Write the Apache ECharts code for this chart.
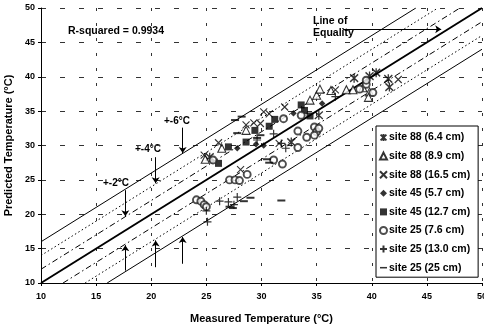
<!DOCTYPE html>
<html><head><meta charset="utf-8">
<script src="https://cdn.jsdelivr.net/npm/echarts@6/dist/echarts.min.js"></script>
<style>html,body{margin:0;padding:0;background:#fff}#c{width:484px;height:326px}</style>
</head><body><div id="c"></div><script>
// ---- data ----
const seriesNames = ["site 88 (6.4 cm)","site 88 (8.9 cm)","site 88 (16.5 cm)","site 45 (5.7 cm)","site 45 (12.7 cm)","site 25 (7.6 cm)","site 25 (13.0 cm)","site 25 (25 cm)"];
const site88_64 = [[25.3,28.3],[32.7,30.5],[35.2,34.4],[38.4,39.8],[39.8,40.1],[40.4,40.6],[41.5,39.7],[41.6,38.5]];
const site88_89 = [[24.9,28.0],[26.4,29.6],[28.6,32.2],[34.4,36.6],[35.0,37.3],[35.3,38.2],[36.3,38.0],[37.7,38.1],[38.3,38.1],[39.2,38.4],[39.8,37.8],[39.7,37.0]];
const site88_165 = [[24.8,28.6],[26.1,30.4],[28.6,33.0],[29.3,33.3],[29.9,33.2],[30.2,34.9],[30.7,34.6],[32.1,35.6],[28.1,26.5],[36.7,38.1],[42.4,39.6],[31.6,30.3]];
const site45_57 = [[25.5,27.8],[27.8,29.6],[29.5,30.2],[30.2,30.0],[32.9,34.7],[35.5,36.1]];
const site45_127 = [[26.1,27.4],[27.0,29.8],[28.6,30.5],[29.4,32.2],[30.7,32.8],[31.2,33.8],[33.6,35.9],[33.9,35.1],[34.4,34.3]];
const site25_76 = [[24.1,22.1],[24.5,21.9],[24.8,21.4],[25.0,21.1],[27.1,25.0],[27.6,25.0],[28.0,24.9],[28.7,25.8],[31.1,27.9],[31.9,27.3],[33.3,32.1],[33.3,29.7],[34.1,31.2],[34.8,32.7],[35.0,32.0],[34.8,31.5],[35.2,32.5],[32.0,33.9],[33.6,34.4],[38.9,38.2],[39.5,38.9],[39.5,39.5],[40.1,37.7],[25.6,27.9]];
const site25_130 = [[25.0,20.5],[25.1,18.9],[26.2,21.9],[27.0,21.8],[27.5,21.4],[27.8,22.5],[31.1,31.7],[31.8,30.3],[32.2,29.6],[36.7,37.1],[29.6,30.8]];
const site25_25 = [[27.6,33.7],[28.2,34.2],[27.8,31.8],[29.9,31.5],[29.6,31.1],[27.1,21.1],[28.4,21.9],[29.0,22.4],[31.8,22.0],[30.5,28.0],[30.7,27.5],[27.4,20.9]];

const lineEquality = [[10,10],[50,50]];
const linePlus2 = [[10,12],[48,50]];
const lineMinus2 = [[12,10],[50,48]];
const linePlus4 = [[10,14],[46,50]];
const lineMinus4 = [[14,10],[50,46]];
const linePlus6 = [[10,16],[44,50]];
const lineMinus6 = [[16,10],[50,44]];

const arrowsDown = [[[22.85,32.6],[22.85,28.9]],[[20.4,28.3],[20.4,24.5]],[[17.65,23.5],[17.65,19.7]]];
const arrowsUp = [[[17.65,11.8],[17.65,15.5]],[[20.4,12.3],[20.4,16.2]],[[22.85,12.8],[22.85,16.7]]];
const arrowEquality = [[[37.4,46.9],[46.3,46.9]]];

const axisMin = 10, axisMax = 50, axisStep = 5;

// ---- chart ----
const chart = echarts.init(document.getElementById('c'), null, {renderer:'canvas'});
const FONT = 'Liberation Sans, Arial, sans-serif';
const stroke = (w)=>({color:'transparent', borderColor:'#000', borderWidth:w});
const P_AST = 'path://M0,1L10,11M10,1L0,11M5,0L5,12';
const P_X = 'path://M0,0L10,10M10,0L0,10';
const P_PLUS = 'path://M5,0L5,10M0,5L10,5';
const P_DASH = 'path://M0,4L10,4L10,6.2L0,6.2Z';

function refLine(data, type, width){
  return {type:'line', data:data, showSymbol:false, symbol:'none', silent:true, z:1,
    lineStyle:{color:'#000', width:width, type:type}};
}
function scat(name, data, symbol, size, style){
  return {type:'scatter', name:name, data:data, symbol:symbol, symbolSize:size, itemStyle:style, z:5};
}

chart.setOption({
  animation:false,
  backgroundColor:'#fff',
  grid:{left:41, right:2, top:8, bottom:43, containLabel:false, outerBoundsMode:'none'},
  xAxis:{type:'value', min:axisMin, max:axisMax, interval:axisStep,
    name:'Measured Temperature (°C)', nameLocation:'middle', nameGap:30,
    nameTextStyle:{fontFamily:FONT, fontWeight:'bold', fontSize:11, color:'#000'},
    axisLine:{lineStyle:{color:'#000', width:1}}, axisTick:{show:true, length:3, lineStyle:{color:'#000'}},
    axisLabel:{fontFamily:FONT, fontSize:9, fontWeight:'bold', color:'#000', margin:9},
    splitLine:{show:true, lineStyle:{color:'#333', type:[3,12], width:1}}},
  yAxis:{type:'value', min:axisMin, max:axisMax, interval:axisStep,
    name:'Predicted Temperature (°C)', nameLocation:'middle', nameGap:24,
    nameTextStyle:{fontFamily:FONT, fontWeight:'bold', fontSize:11, color:'#000'},
    axisLine:{show:true, lineStyle:{color:'#000', width:1}}, axisTick:{show:true, length:3, lineStyle:{color:'#000'}},
    axisLabel:{fontFamily:FONT, fontSize:9, fontWeight:'bold', color:'#000', margin:6},
    splitLine:{show:true, lineStyle:{color:'#333', type:[5,14], width:1}}},
  legend:{orient:'vertical', left:376, top:126, padding:[6,8,4,3], itemGap:7.6, itemWidth:7, itemHeight:7,
    backgroundColor:'#fff', borderColor:'#000', borderWidth:1, borderRadius:0,
    data:seriesNames.map((n,i)=> i===7 ? {name:n, icon:P_DASH} : n),
    textStyle:{fontFamily:FONT, fontWeight:'bold', fontSize:10.5, color:'#000', padding:[0,0,0,-3]}},
  graphic:[
    {type:'text', left:68, top:26, style:{text:'R-squared = 0.9934', font:'bold 10.5px '+FONT, fill:'#000'}},
    {type:'text', left:313, top:15, style:{text:'Line of\nEquality', font:'bold 10.5px '+FONT, fill:'#000', lineHeight:12}},
    {type:'text', left:164, top:116, style:{text:'+-6°C', font:'bold 10px '+FONT, fill:'#000'}},
    {type:'text', left:135, top:144, style:{text:'+-4°C', font:'bold 10px '+FONT, fill:'#000'}},
    {type:'text', left:103, top:178, style:{text:'+-2°C', font:'bold 10px '+FONT, fill:'#000'}}
  ],
  series:[
    refLine(lineEquality,'solid',2),
    refLine(linePlus2,[6,3,1.5,3],1), refLine(lineMinus2,[6,3,1.5,3],1),
    refLine(linePlus4,[1.5,2.5],1), refLine(lineMinus4,[1.5,2.5],1),
    refLine(linePlus6,'solid',1), refLine(lineMinus6,'solid',1),
    {type:'lines', coordinateSystem:'cartesian2d', silent:true, z:3, symbol:['none','arrow'], symbolSize:6,
      lineStyle:{color:'#000', width:1, opacity:1},
      data:arrowsDown.concat(arrowsUp, arrowEquality).map(c=>({coords:c}))},
    scat(seriesNames[0], site88_64, P_AST, [8,9], stroke(1.4)),
    scat(seriesNames[1], site88_89, 'triangle', 8, {color:'#fff', borderColor:'#000', borderWidth:1.1}),
    scat(seriesNames[2], site88_165, P_X, 7, stroke(1.1)),
    scat(seriesNames[3], site45_57, 'diamond', 6.5, {color:'#000'}),
    scat(seriesNames[4], site45_127, 'rect', 7, {color:'#000'}),
    scat(seriesNames[5], site25_76, 'circle', 7, {color:'#fff', borderColor:'#222', borderWidth:1.9}),
    scat(seriesNames[6], site25_130, P_PLUS, 8, stroke(1.2)),
    scat(seriesNames[7], site25_25, P_DASH, [8,2], {color:'#000'})
  ]
});
</script></body></html>
